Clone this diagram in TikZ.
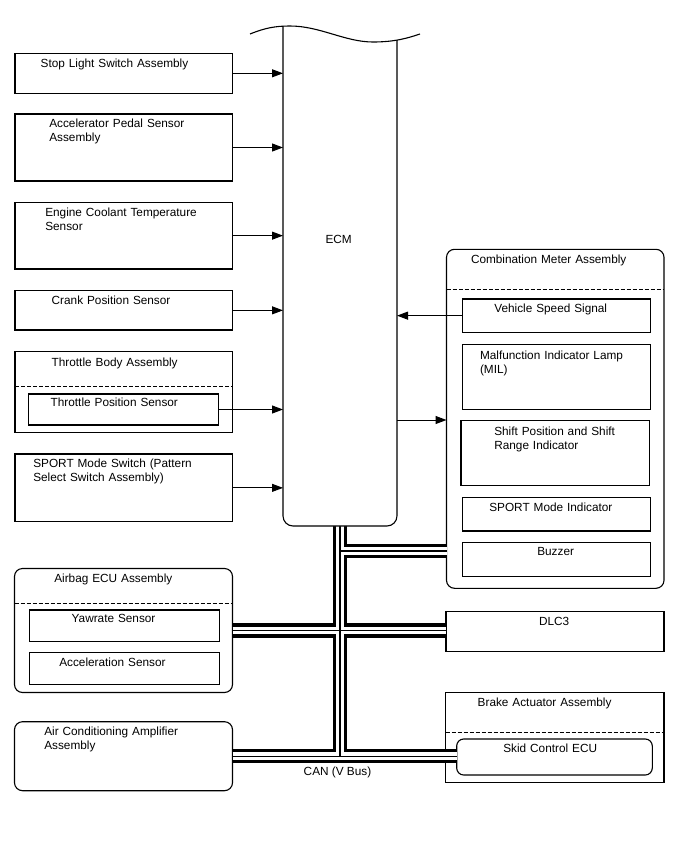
\documentclass[tikz,border=0pt]{standalone}
\usepackage{fontspec}
\setmainfont{Liberation Sans}
\usetikzlibrary{arrows.meta,intersections}
\begin{document}
\begin{tikzpicture}[x=1pt,y=-1pt,
  box/.style={draw, line width=1.1pt, inner sep=0pt, outer sep=0pt, anchor=north west},
  rbox/.style={box, rounded corners=8pt},
  lbl/.style={inner sep=0pt, outer sep=0pt, font=\fontsize{11.8pt}{14pt}\selectfont, anchor=base west, align=left, text width=190pt},
  clbl/.style={inner sep=0pt, outer sep=0pt, font=\fontsize{11.8pt}{14pt}\selectfont, anchor=base},
  dsh/.style={line width=0.7pt, dash pattern=on 4pt off 2pt},
  arr/.style={-{Triangle[length=11pt,width=8pt]}, line width=1pt},
  busA/.style={line width=14.5pt, black, line cap=butt},
  busB/.style={line width=7.5pt, white, line cap=butt},
  busC/.style={line width=1.2pt, black, line cap=butt}]
\fill[white] (0,0) rectangle (688,852);
\useasboundingbox (0,0) rectangle (688,852);

% left column boxes
\node[box, minimum width=217.5pt, minimum height=40pt] (stop) at (15,53.3) {};
\node[box, minimum width=217.5pt, minimum height=67pt] (acc) at (15,114) {};
\node[box, minimum width=217.5pt, minimum height=66.7pt] (cool) at (15,202.3) {};
\node[box, minimum width=217.5pt, minimum height=39.3pt] (crank) at (15,290.7) {};
\node[box, minimum width=217.5pt, minimum height=81pt] (throttle) at (15,351.7) {};
\node[box, minimum width=190pt, minimum height=31pt] (tps) at (28.3,394) {};
\node[box, minimum width=217.5pt, minimum height=67.7pt] (sport) at (15,454) {};
\node[rbox, minimum width=218pt, minimum height=124pt] (airbag) at (14.5,568.5) {};
\node[box, minimum width=190pt, minimum height=31.7pt] (yaw) at (29.3,610) {};
\node[box, minimum width=190pt, minimum height=31.7pt] (accel) at (29.3,652.7) {};
\node[rbox, minimum width=218pt, minimum height=69pt] (acamp) at (14.5,721.7) {};

% right column boxes
\node[rbox, minimum width=217.5pt, minimum height=339pt] (comb) at (446.5,249.3) {};
\node[box, minimum width=188.4pt, minimum height=33.3pt] (vss) at (462.3,299) {};
\node[box, minimum width=188.4pt, minimum height=65pt] (mil) at (462.3,344.3) {};
\node[box, minimum width=188.4pt, minimum height=65pt] (shift) at (461,420.7) {};
\node[box, minimum width=188.4pt, minimum height=33.7pt] (sportind) at (462.3,497.3) {};
\node[box, minimum width=188.4pt, minimum height=34pt] (buzzer) at (462.3,542.7) {};
\node[box, minimum width=218pt, minimum height=40pt] (dlc) at (446,611.3) {};
\node[box, minimum width=218.5pt, minimum height=90pt] (brake) at (445.5,692.3) {};
\node[box, rounded corners=7pt, minimum width=195.6pt, minimum height=36pt] (skid) at (456.7,739) {};

% dashed separators
\draw[dsh] (throttle.west |- 0,386) -- (throttle.east |- 0,386);
\draw[dsh] (airbag.west |- 0,603.3) -- (airbag.east |- 0,603.3);
\draw[dsh] (comb.west |- 0,289) -- (comb.east |- 0,289);
\draw[dsh] (brake.west |- 0,732.3) -- (brake.east |- 0,732.3);

% ECM placeholder node
\node[inner sep=0pt, outer sep=0pt, minimum width=114pt, minimum height=499pt, anchor=north west] (ecm) at (283,27) {};

% CAN bus (three layers)
\coordinate (j1) at (340,551);
\foreach \st in {busA,busB,busC}{
  \draw[\st] (ecm.south) -- (ecm.south |- acamp.east);
  \draw[\st] (j1) -- (j1 -| comb.west);
  \draw[\st] (airbag.east) -- (airbag.east -| dlc.west);
  \draw[\st] (acamp.east) -- (acamp.east -| skid.west);
}

% ECM outline with wavy top
\path[name path=wave] (250,34) .. controls (265,28) and (275,26) .. (290,26) .. controls (320,26) and (345,42) .. (373,42) .. controls (395,42) and (408,38) .. (420,34);
\path[name path=lv] (283,0) -- (283,100);
\path[name path=rv] (397,0) -- (397,100);
\path[name intersections={of=wave and lv, by=ecmtl}];
\path[name intersections={of=wave and rv, by=ecmtr}];
\fill[white] (ecmtl) -- (ecmtl |- ecm.south) -- (ecmtr |- ecm.south) -- (ecmtr) -- cycle;
\draw[line width=1.1pt] (250,34) .. controls (265,28) and (275,26) .. (290,26) .. controls (320,26) and (345,42) .. (373,42) .. controls (395,42) and (408,38) .. (420,34);
\draw[line width=1.1pt] (ecmtl) [rounded corners=10pt] -- (ecmtl |- ecm.south) -- (ecmtr |- ecm.south) -- (ecmtr);

% texts
\node[clbl] (ecmt) at (338.7,243.3) {ECM};
\node[lbl] (stopt) at (40.7,67) {Stop Light Switch Assembly};
\node[lbl] (acct) at (49.3,127) {Accelerator Pedal Sensor\\Assembly};
\node[lbl] (coolt) at (45.3,216) {Engine Coolant Temperature\\Sensor};
\node[lbl] (crankt) at (51.7,304) {Crank Position Sensor};
\node[lbl] (throttlet) at (51.7,366) {Throttle Body Assembly};
\node[lbl] (tpst) at (50.7,406.5) {Throttle Position Sensor};
\node[lbl] (sportt) at (33.3,467.5) {SPORT Mode Switch (Pattern\\Select Switch Assembly)};
\node[lbl] (airbagt) at (54.3,582.5) {Airbag ECU Assembly};
\node[lbl] (yawt) at (71.7,622.7) {Yawrate Sensor};
\node[lbl] (accelt) at (59.3,666) {Acceleration Sensor};
\node[lbl] (acampt) at (44.3,735.7) {Air Conditioning Amplifier\\Assembly};
\node[lbl] (combt) at (471,263.3) {Combination Meter Assembly};
\node[lbl] (vsst) at (494.3,312.7) {Vehicle Speed Signal};
\node[lbl] (milt) at (480,359.3) {Malfunction Indicator Lamp\\(MIL)};
\node[lbl] (shiftt) at (494.3,435) {Shift Position and Shift\\Range Indicator};
\node[lbl] (sportindt) at (489.3,511) {SPORT Mode Indicator};
\node[lbl] (buzzert) at (537.3,555) {Buzzer};
\node[lbl] (dlct) at (539,625) {DLC3};
\node[lbl] (braket) at (477.7,706.7) {Brake Actuator Assembly};
\node[lbl] (skidt) at (503.3,752.7) {Skid Control ECU};
\node[clbl] (cant) at (337.5,775.7) {CAN (V Bus)};

% arrows
\draw[arr] (stop.east) -- (stop.east -| ecm.west);
\draw[arr] (acc.east) -- (acc.east -| ecm.west);
\draw[arr] (cool.east) -- (cool.east -| ecm.west);
\draw[arr] (crank.east) -- (crank.east -| ecm.west);
\draw[arr] (tps.east) -- (tps.east -| ecm.west);
\draw[arr] (sport.east) -- (sport.east -| ecm.west);
\draw[arr] (vss.west) -- (vss.west -| ecm.east);
\coordinate (o1) at (ecm.east |- 0,420);
\draw[arr] (o1) -- (o1 -| comb.west);
\end{tikzpicture}
\end{document}
